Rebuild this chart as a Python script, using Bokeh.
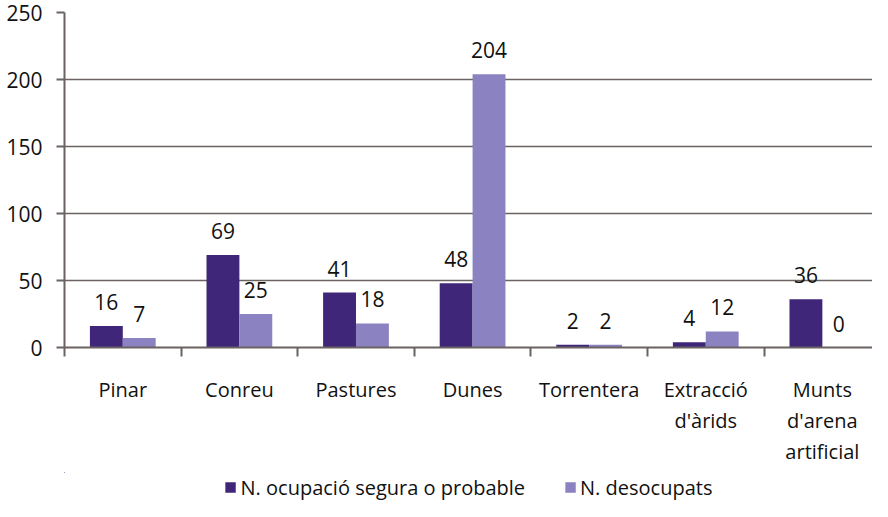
from bokeh.plotting import figure
from bokeh.models import ColumnDataSource, FixedTicker, Range1d, Legend, LegendItem, LabelSet
from bokeh.layouts import column
from bokeh.core.properties import value
from bokeh.embed import file_html
from bokeh.resources import INLINE
import numpy as np

categories = ["Pinar", "Conreu", "Pastures", "Dunes", "Torrentera",
              "Extracció\nd'àrids", "Munts\nd'arena\nartificial"]
ocupacio = [16, 69, 41, 48, 2, 4, 36]
desocupats = [7, 25, 18, 204, 2, 12, 0]
series_names = ["N. ocupació segura o probable", "N. desocupats"]
y_ticks = [0, 50, 100, 150, 200, 250]

FONT = "Open Sans"
DARK = "#3f2679"
LIGHT = "#8a82c1"
GRID = "#6b6262"
TXT = "#111111"

n = len(categories)
centers = np.arange(n) + 0.5
bw = 0.282

src1 = ColumnDataSource(dict(x=centers - bw / 2, y=ocupacio, lab=[str(v) for v in ocupacio]))
src2 = ColumnDataSource(dict(x=centers + bw / 2, y=desocupats, lab=[str(v) for v in desocupats]))

p = figure(width=872, height=472, output_backend="svg", toolbar_location=None,
           x_range=Range1d(0, 6.93), y_range=Range1d(0, 250),
           min_border_left=64, min_border_right=0, min_border_top=12, min_border_bottom=125)
p.outline_line_color = None
p.background_fill_color = "white"
p.border_fill_color = "white"

r1 = p.vbar(x="x", top="y", width=bw, source=src1, fill_color=DARK, line_color=None)
r2 = p.vbar(x="x", top="y", width=bw, source=src2, fill_color=LIGHT, line_color=None)

for s in (src1, src2):
    lbl = LabelSet(x="x", y="y", text="lab", source=s, text_align="center",
                   text_baseline="alphabetic", y_offset=16, text_font=value(FONT),
                   text_font_size=value("21px"), text_color=TXT)
    p.add_layout(lbl)

# x axis
xa = p.xaxis[0]
xa.ticker = FixedTicker(ticks=list(centers), minor_ticks=list(range(n + 1)))
xa.major_label_overrides = {float(c): categories[i] for i, c in enumerate(centers)}
xa.major_tick_out = 0
xa.major_tick_in = 0
xa.minor_tick_out = 9
xa.minor_tick_in = 0
xa.minor_tick_line_color = GRID
xa.minor_tick_line_width = 2
xa.axis_line_color = GRID
xa.axis_line_width = 2
xa.major_label_text_font = FONT
xa.major_label_text_font_size = "20px"
xa.major_label_text_color = TXT
xa.major_label_text_line_height = 1.15
xa.major_label_standoff = 19

# y axis
ya = p.yaxis[0]
ya.ticker = FixedTicker(ticks=y_ticks)
ya.minor_tick_line_color = None
ya.major_tick_out = 8
ya.major_tick_in = 0
ya.major_tick_line_color = GRID
ya.major_tick_line_width = 2
ya.axis_line_color = GRID
ya.axis_line_width = 2
ya.major_label_text_font = FONT
ya.major_label_text_font_size = "21px"
ya.major_label_text_color = TXT
ya.major_label_standoff = 14

p.xgrid.grid_line_color = None
p.ygrid.ticker = FixedTicker(ticks=y_ticks)
p.ygrid.grid_line_color = GRID
p.ygrid.grid_line_width = 1.6

# legend strip: a small figure that reuses the same series (bars lie outside its view)
q = figure(width=872, height=29, output_backend="svg", toolbar_location=None,
           x_range=Range1d(100, 101), y_range=Range1d(-20, -10),
           min_border_left=28, min_border_right=0, min_border_top=0, min_border_bottom=0)
q.axis.visible = False
q.grid.visible = False
q.outline_line_color = None
q.background_fill_color = "white"
q.border_fill_color = "white"
l1 = q.vbar(x="x", top="y", width=bw, source=src1, fill_color=DARK, line_color=None)
l2 = q.vbar(x="x", top="y", width=bw, source=src2, fill_color=LIGHT, line_color=None)
legend = Legend(items=[LegendItem(label=series_names[0], renderers=[l1]),
                       LegendItem(label=series_names[1], renderers=[l2])],
                orientation="horizontal", location="center",
                label_text_font=FONT, label_text_font_size="20px", label_text_color=TXT,
                glyph_width=13, glyph_height=13, spacing=38, label_standoff=4,
                border_line_color=None, background_fill_color="white", background_fill_alpha=1,
                margin=0, padding=2)
q.add_layout(legend, "center")

open("out.html", "w").write(file_html(column(p, q, spacing=0), INLINE))
